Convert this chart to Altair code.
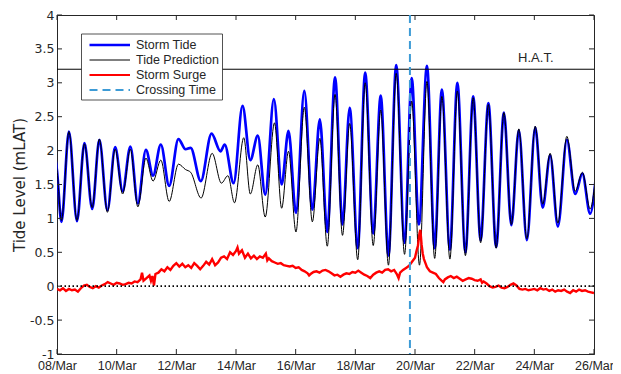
import altair as alt
import pandas as pd

# ---------------- data ----------------
# Tide prediction (black): times (day of March) of highs/lows and their levels
pred_t = [7.90, 8.00, 8.15, 8.40, 8.67, 8.92, 9.18, 9.42, 9.69, 9.95, 10.20, 10.46, 10.71,
          10.98, 11.22, 11.48, 11.76, 12.07, 12.31, 12.48, 12.83, 13.20, 13.51, 13.73,
          13.95, 14.26, 14.48, 14.73, 14.98, 15.29, 15.53, 15.76, 16.01, 16.29, 16.56,
          16.81, 17.06, 17.32, 17.57, 17.81, 18.08, 18.33, 18.60, 18.85, 19.11, 19.37,
          19.65, 19.89, 20.15, 20.40, 20.66, 20.90, 21.17, 21.42, 21.69, 21.95, 22.20,
          22.46, 22.72, 22.98, 23.23, 23.48, 23.75, 24.03, 24.28, 24.53, 24.79, 25.09,
          25.37, 25.61, 25.87, 26.12]
pred_v = [2.05, 1.72, 0.97, 2.28, 0.97, 2.10, 1.16, 2.17, 1.09, 2.02, 1.36, 2.02, 1.17,
          1.89, 1.55, 1.86, 1.25, 1.80, 1.72, 1.68, 1.30, 1.96, 1.52, 1.63,
          1.23, 2.19, 1.36, 1.79, 1.02, 2.41, 1.15, 1.99, 0.80, 2.64, 0.95,
          2.18, 0.59, 2.83, 0.75, 2.40, 0.39, 3.00, 0.60, 2.60, 0.31, 3.14,
          0.47, 2.73, 0.31, 3.02, 0.41, 2.80, 0.40, 2.88, 0.45, 2.78, 0.64,
          2.68, 0.56, 2.56, 0.91, 2.32, 0.70, 2.36, 1.21, 1.96, 0.93, 2.21,
          1.40, 1.68, 1.14, 1.95]

# Storm tide (blue): highs/lows
tide_t = [7.90, 8.00, 8.15, 8.40, 8.67, 8.92, 9.18, 9.42, 9.69, 9.95, 10.20, 10.46, 10.71,
          10.98, 11.22, 11.48, 11.76, 12.07, 12.31, 12.48, 12.82, 13.18, 13.48, 13.62,
          13.92, 14.22, 14.48, 14.73, 14.98, 15.27, 15.53, 15.76, 16.01, 16.29, 16.56,
          16.81, 17.06, 17.32, 17.57, 17.81, 18.08, 18.33, 18.60, 18.85, 19.11, 19.37,
          19.65, 19.89, 20.13, 20.40, 20.66, 20.90, 21.17, 21.42, 21.69, 21.95, 22.20,
          22.46, 22.72, 22.98, 23.23, 23.48, 23.75, 24.03, 24.28, 24.53, 24.79, 25.09,
          25.37, 25.61, 25.87, 26.12]
tide_v = [2.02, 1.70, 0.95, 2.28, 0.96, 2.11, 1.14, 2.16, 1.12, 2.05, 1.40, 2.06, 1.22,
          2.01, 1.63, 2.09, 1.48, 2.17, 2.02, 2.04, 1.55, 2.25, 1.99, 2.09,
          1.52, 2.66, 1.86, 2.22, 1.35, 2.76, 1.50, 2.29, 1.08, 2.88, 1.13,
          2.46, 0.80, 3.08, 0.91, 2.63, 0.56, 3.15, 0.78, 2.81, 0.45, 3.26,
          0.64, 3.07, 0.91, 3.25, 0.56, 2.90, 0.54, 3.00, 0.50, 2.80, 0.68,
          2.70, 0.58, 2.56, 0.90, 2.30, 0.68, 2.34, 1.16, 1.93, 0.88, 2.16,
          1.36, 1.66, 1.07, 1.90]

# Storm surge (red)
surge_t = [8.00, 8.10, 8.20, 8.30, 8.40, 8.50, 8.60, 8.70, 8.80, 8.90, 9.00, 9.10, 9.20,
           9.30, 9.40, 9.50, 9.60, 9.70, 9.80, 9.90, 10.00, 10.10, 10.20, 10.30, 10.40,
           10.50, 10.60, 10.70, 10.80, 10.85, 10.90, 11.00, 11.10, 11.15, 11.20, 11.25,
           11.30, 11.40, 11.50, 11.60, 11.70, 11.80, 11.90, 12.00, 12.10, 12.20, 12.30,
           12.40, 12.50, 12.60, 12.70, 12.80, 12.90, 13.00, 13.10, 13.20, 13.30, 13.40,
           13.50, 13.60, 13.70, 13.80, 13.90, 14.00, 14.05, 14.10, 14.20, 14.30, 14.40,
           14.50, 14.60, 14.70, 14.80, 14.90, 15.00, 15.05, 15.10, 15.20, 15.30, 15.40,
           15.50, 15.60, 15.70, 15.80, 15.90, 16.00, 16.10, 16.20, 16.30, 16.40, 16.45,
           16.50, 16.60, 16.70, 16.80, 16.90, 17.00, 17.10, 17.20, 17.30, 17.40, 17.50,
           17.60, 17.70, 17.80, 17.90, 18.00, 18.10, 18.20, 18.30, 18.40, 18.50, 18.60,
           18.70, 18.80, 18.90, 19.00, 19.10, 19.20, 19.30, 19.40, 19.45, 19.50, 19.60,
           19.70, 19.80, 19.90, 20.00, 20.05, 20.10, 20.15, 20.18, 20.22, 20.26, 20.30,
           20.35, 20.40, 20.45, 20.50, 20.60, 20.70, 20.80, 20.90, 20.95, 21.00, 21.10,
           21.20, 21.30, 21.40, 21.50, 21.60, 21.70, 21.80, 21.90, 22.00, 22.10, 22.20,
           22.25, 22.30, 22.40, 22.50, 22.60, 22.70, 22.80, 22.90, 23.00, 23.10, 23.20,
           23.30, 23.40, 23.50, 23.60, 23.70, 23.80, 23.90, 24.00, 24.10, 24.20, 24.30,
           24.40, 24.50, 24.60, 24.70, 24.80, 24.90, 25.00, 25.10, 25.20, 25.30, 25.40,
           25.50, 25.60, 25.70, 25.80, 25.90, 26.00]
surge_v = [-0.04, -0.06, -0.03, -0.07, -0.04, -0.06, -0.05, -0.08, -0.03, 0.01, 0.02, -0.01, -0.03,
           0.00, -0.02, 0.01, 0.03, 0.06, 0.04, 0.02, 0.05, 0.04, 0.02, 0.03, 0.05,
           0.04, 0.07, 0.06, 0.10, 0.20, 0.08, 0.12, 0.16, 0.08, 0.15, 0.01,
           0.18, 0.20, 0.25, 0.22, 0.28, 0.24, 0.30, 0.34, 0.29, 0.33, 0.28,
           0.31, 0.27, 0.34, 0.30, 0.25, 0.30, 0.36, 0.32, 0.40, 0.31, 0.35,
           0.42, 0.44, 0.40, 0.50, 0.46, 0.52, 0.57, 0.48, 0.53, 0.42, 0.48,
           0.41, 0.45, 0.40, 0.44, 0.42, 0.48, 0.38, 0.41, 0.37, 0.35, 0.33,
           0.34, 0.31, 0.30, 0.29, 0.30, 0.27, 0.28, 0.24, 0.22, 0.19, 0.16,
           0.18, 0.21, 0.22, 0.20, 0.23, 0.24, 0.22, 0.19, 0.16, 0.17, 0.14,
           0.17, 0.19, 0.18, 0.21, 0.20, 0.23, 0.20, 0.17, 0.15, 0.12, 0.17,
           0.20, 0.22, 0.20, 0.24, 0.25, 0.22, 0.24, 0.17, 0.12, 0.20, 0.24,
           0.27, 0.30, 0.36, 0.42, 0.52, 0.60, 0.78, 0.83, 0.62, 0.48, 0.40,
           0.34, 0.28, 0.25, 0.22, 0.20, 0.18, 0.12, 0.08, 0.06, 0.10, 0.13,
           0.15, 0.12, 0.14, 0.11, 0.08, 0.10, 0.12, 0.11, 0.09, 0.08, 0.10,
           0.05, 0.07, 0.04, 0.00, -0.02, -0.01, 0.01, -0.02, -0.03, -0.01, 0.02,
           0.04, 0.01, -0.04, -0.05, -0.04, -0.06, -0.05, -0.04, -0.06, -0.03, -0.05,
           -0.04, -0.07, -0.05, -0.08, -0.06, -0.07, -0.05, -0.08, -0.10, -0.06, -0.08,
           -0.05, -0.07, -0.06, -0.08, -0.09, -0.10]

x_ticks = [8, 10, 12, 14, 16, 18, 20, 22, 24, 26]
y_ticks = [-1, -0.5, 0, 0.5, 1, 1.5, 2, 2.5, 3, 3.5, 4]
hat_level = [3.2]
hat_label = ["H.A.T."]
hat_label_pos = [24.05, 3.36]
zero_level = [0]
crossing_day = [19.83]
legend_names = ["Storm Tide", "Tide Prediction", "Storm Surge", "Crossing Time"]

# ---------------- chart ----------------
W, H = 537, 339
FONT = "Liberation Sans"
WIDE = "DejaVu Sans"
INK = "#262626"

xs = alt.Scale(domain=[8, 26], nice=False, zero=False)
ys = alt.Scale(domain=[-1, 4], nice=False, zero=False)

x_axis = alt.Axis(values=x_ticks, ticks=False, grid=False, title=None,
                  labelExpr="(datum.value < 10 ? '0' : '') + datum.value + '/Mar'",
                  labelFontSize=12.5, labelColor=INK, labelPadding=5,
                  domainColor=INK, labelFont=FONT, labelFlush=False)
y_axis = alt.Axis(values=y_ticks, ticks=False, grid=False, title="Tide Level (mLAT)",
                  labelExpr="'' + datum.value", labelFontSize=12.5, labelColor=INK,
                  labelPadding=3, domainColor=INK, labelFont=WIDE,
                  titleFont=WIDE, titleFontSize=15, titleFontWeight="normal",
                  titleColor=INK, titlePadding=2)

pred_df = pd.DataFrame({"t": pred_t, "v": pred_v})
tide_df = pd.DataFrame({"t": tide_t, "v": tide_v})
surge_df = pd.DataFrame({"t": surge_t, "v": surge_v})


def X(field="t"):
    return alt.X(f"{field}:Q", scale=xs, axis=x_axis)


def Y(field="v"):
    return alt.Y(f"{field}:Q", scale=ys, axis=y_axis)


tide = alt.Chart(tide_df).mark_line(interpolate="monotone", color="#0000ff",
                                    strokeWidth=2.7, clip=True).encode(x=X(), y=Y(), order="t:Q")
pred = alt.Chart(pred_df).mark_line(interpolate="monotone", color="#000000",
                                    strokeWidth=1, clip=True).encode(x=X(), y=Y(), order="t:Q")
surge = alt.Chart(surge_df).mark_line(color="#ff0000", strokeWidth=2.4,
                                      clip=True).encode(x=X(), y=Y(), order="t:Q")

zero = alt.Chart(pd.DataFrame({"z": zero_level})).mark_rule(
    color="#000000", strokeWidth=1.7, strokeDash=[1.5, 2.5]).encode(y=Y("z"))
hat = alt.Chart(pd.DataFrame({"h": hat_level})).mark_rule(
    color="#000000", strokeWidth=1).encode(y=Y("h"))
hat_txt = alt.Chart(pd.DataFrame({"x": [hat_label_pos[0]], "y": [hat_label_pos[1]],
                                  "s": hat_label})).mark_text(
    font=FONT, fontSize=13, color=INK, align="center", baseline="middle").encode(
    x=X("x"), y=Y("y"), text="s:N")
cross = alt.Chart(pd.DataFrame({"c": crossing_day})).mark_rule(
    color="#3d9bd6", strokeWidth=2, strokeDash=[8, 5]).encode(x=X("c"))

# inward tick marks on all four sides (MATLAB box style)
xt = pd.DataFrame({"k": x_ticks})
yt = pd.DataFrame({"k": y_ticks})
tick_style = dict(color=INK, strokeWidth=1)
tb = alt.Chart(xt).mark_rule(**tick_style).encode(x=X("k"), y=alt.value(H), y2=alt.value(H - 5))
tt = alt.Chart(xt).mark_rule(**tick_style).encode(x=X("k"), y=alt.value(0), y2=alt.value(5))
tl = alt.Chart(yt).mark_rule(**tick_style).encode(y=Y("k"), x=alt.value(0), x2=alt.value(5))
tr = alt.Chart(yt).mark_rule(**tick_style).encode(y=Y("k"), x=alt.value(W), x2=alt.value(W - 5))

# legend box
LX0, LX1, LY0 = 24.5, 165.5, 19
rows = [30, 45, 60, 75]
leg = [alt.Chart(pd.DataFrame({"a": [0]})).mark_rect(
    fill="white", stroke=INK, strokeWidth=0.8).encode(
    x=alt.value(LX0), x2=alt.value(LX1), y=alt.value(LY0), y2=alt.value(85))]
styles = [dict(color="#0000ff", strokeWidth=2.7),
          dict(color="#000000", strokeWidth=1),
          dict(color="#ff0000", strokeWidth=2.2),
          dict(color="#3d9bd6", strokeWidth=2, strokeDash=[8, 5])]
for name, ry, st in zip(legend_names, rows, styles):
    leg.append(alt.Chart(pd.DataFrame({"a": [0]})).mark_rule(**st).encode(
        x=alt.value(32.5), x2=alt.value(73), y=alt.value(ry)))
    leg.append(alt.Chart(pd.DataFrame({"s": [name]})).mark_text(
        font=FONT, fontSize=12.5, color=INK, align="left", baseline="middle").encode(
        x=alt.value(79), y=alt.value(ry), text="s:N"))

chart = alt.layer(tide, pred, surge, zero, hat, hat_txt, cross, tb, tt, tl, tr, *leg).properties(
    width=W, height=H,
    autosize=alt.AutoSizeParams(type="none"),
    padding={"left": 49, "top": 7, "right": 19, "bottom": 20},
).configure(font=FONT).configure_view(stroke=INK, strokeWidth=1)

chart.save("out.html", embed_options={"renderer": "svg", "actions": False})
